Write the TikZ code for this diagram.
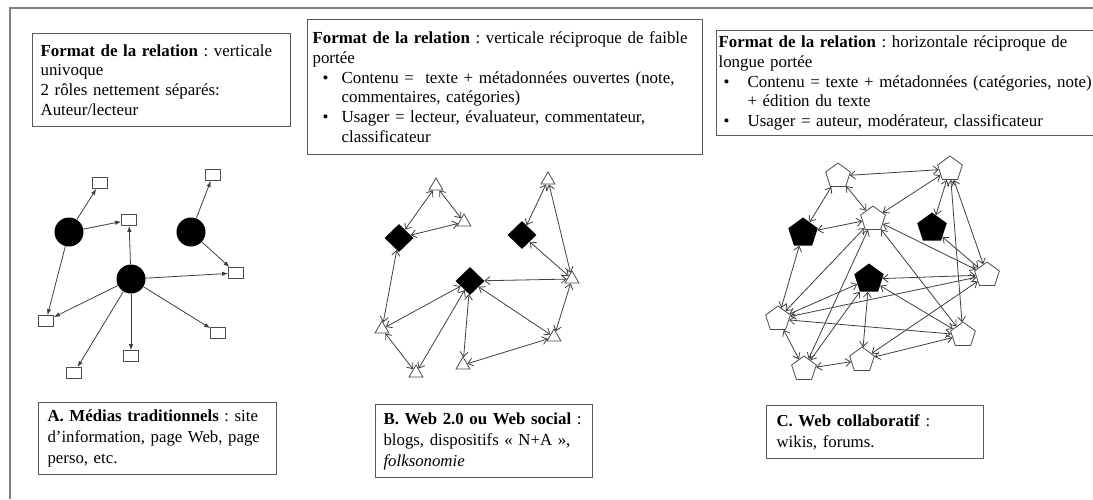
\documentclass[tikz,border=0pt]{standalone}
\usepackage{fontspec}
\setmainfont{Liberation Serif}
\usetikzlibrary{shapes.geometric,arrows.meta}
\frenchspacing
\newcommand{\puce}[1][8pt]{\hspace*{#1}\makebox[\dimexpr29pt-#1\relax][l]{\textbullet}}
\newcommand{\retrait}{\hspace*{29pt}}
\begin{document}
\begin{tikzpicture}[x=1pt,y=-1pt,
  frame/.style={draw=black!50, line width=1.5pt},
  infobox/.style={draw=black!65, line width=1.1pt, anchor=north west, align=left, inner ysep=0pt, font=\fontsize{16.9}{19.8}\selectfont},
  typebox/.style={infobox, font=\fontsize{16.8}{21}\selectfont},
  hub/.style={circle, fill, minimum size=29pt, inner sep=0pt},
  leaf/.style={draw=black!70, fill=white, line width=0.8pt, minimum width=15pt, minimum height=11pt, inner sep=0pt},
  losange/.style={diamond, fill, minimum width=29pt, minimum height=28pt, inner sep=0pt},
  tri/.style={regular polygon, regular polygon sides=3, draw=black!70, line width=0.8pt, minimum size=16pt, inner sep=0pt},
  penta/.style={regular polygon, regular polygon sides=5, fill, minimum size=31pt, inner sep=0pt},
  pentb/.style={regular polygon, regular polygon sides=5, draw=black!70, line width=0.8pt, minimum size=26pt, inner sep=0pt},
  oneway/.style={draw=black!75, line width=0.8pt, -{Latex[length=6pt,width=4.5pt]}},
  twoway/.style={draw=black!75, line width=0.8pt, {Straight Barb[length=5pt,width=8pt]}-{Straight Barb[length=5pt,width=8pt]}}]
\clip (0,0) rectangle (1093,499);
\fill[white] (0,0) rectangle (1093,499);
\draw[frame] (10,499) -- (10,8) -- (1093,8);
% encadres du haut
\node[infobox, minimum width=258pt, minimum height=93pt, text width=242pt, inner xsep=8pt] (rel1) at (32,33) {\textbf{Format de la relation} : verticale\\ univoque\\ 2 rôles nettement séparés:\\ Auteur/lecteur};
\node[infobox, minimum width=395pt, minimum height=135pt, text width=385pt, inner xsep=5pt] (rel2) at (307,19) {\textbf{Format de la relation} : verticale réciproque de faible\\ portée\\ \puce[10pt]Contenu = \ texte + métadonnées ouvertes (note,\\ \retrait commentaires, catégories)\\ \puce[10pt]Usager = lecteur, évaluateur, commentateur,\\ \retrait classificateur};
\node[infobox, minimum width=404pt, minimum height=105pt, text width=400pt, inner xsep=2pt] (rel3) at (716,30) {\textbf{Format de la relation} : horizontale réciproque de\\ longue portée\\ \puce[5pt]Contenu = texte + métadonnées (catégories, note)\\ \retrait + édition du texte\\ \puce[5pt]Usager = auteur, modérateur, classificateur};
% A. medias traditionnels
\node[hub] (ca1) at (69,232){};
\node[hub] (ca2) at (191,232){};
\node[hub] (ca3) at (131,279){};
\node[leaf] (sa1) at (100,183){};
\node[leaf] (sa2) at (129,220){};
\node[leaf] (sa3) at (213,175){};
\node[leaf] (sa4) at (236,273){};
\node[leaf] (sa5) at (46,321){};
\node[leaf] (sa6) at (218,333){};
\node[leaf] (sa7) at (131,356){};
\node[leaf] (sa8) at (74,373){};
\draw[oneway] (ca1) -- (sa1);
\draw[oneway] (ca1) -- (sa2);
\draw[oneway] (ca1) -- (sa5);
\draw[oneway] (ca2) -- (sa3);
\draw[oneway] (ca2) -- (sa4);
\draw[oneway] (ca3) -- (sa2);
\draw[oneway] (ca3) -- (sa4);
\draw[oneway] (ca3) -- (sa5);
\draw[oneway] (ca3) -- (sa6);
\draw[oneway] (ca3) -- (sa7);
\draw[oneway] (ca3) -- (sa8);
% B. web social
\node[losange] (db1) at (399,238){};
\node[losange] (db2) at (522,235){};
\node[losange] (db3) at (470,281){};
\node[tri] (tb1) at (436,186){};
\node[tri] (tb2) at (464,222){};
\node[tri] (tb3) at (548,180){};
\node[tri] (tb4) at (572,279){};
\node[tri] (tb5) at (382,329){};
\node[tri] (tb6) at (554,337){};
\node[tri] (tb7) at (416,373){};
\node[tri] (tb8) at (463,365){};
\draw[twoway] (db1) -- (tb1);
\draw[twoway] (tb1) -- (tb2);
\draw[twoway] (db1) -- (tb2);
\draw[twoway] (db1) -- (tb5);
\draw[twoway] (tb5) -- (db3);
\draw[twoway] (tb5) -- (tb7);
\draw[twoway] (tb7) -- (db3);
\draw[twoway] (db3) -- (tb8);
\draw[twoway] (tb8) -- (tb6);
\draw[twoway] (db3) -- (tb6);
\draw[twoway] (db3) -- (tb4);
\draw[twoway] (tb4) -- (tb6);
\draw[twoway] (tb3) -- (tb4);
\draw[twoway] (db2) -- (tb3);
\draw[twoway] (db2) -- (tb4);
% C. web collaboratif
\node[penta] (pc1) at (803,233){};
\node[penta] (pc2) at (932,228){};
\node[penta] (pc3) at (869,279){};
\node[pentb] (qc1) at (838,176){};
\node[pentb] (qc2) at (950,169){};
\node[pentb] (qc3) at (873,219){};
\node[pentb] (qc4) at (987,275){};
\node[pentb] (qc5) at (778,319){};
\node[pentb] (qc6) at (963,335){};
\node[pentb] (qc7) at (804,369){};
\node[pentb] (qc8) at (862,360){};
\draw[twoway] (qc1) -- (qc2);
\draw[twoway] (qc1) -- (pc1);
\draw[twoway] (qc1) -- (qc3);
\draw[twoway] (qc2) -- (qc3);
\draw[twoway] (qc2) -- (pc2);
\draw[twoway] (qc2) -- (qc6);
\draw[twoway] (qc2) -- (qc4);
\draw[twoway] (pc1) -- (qc3);
\draw[twoway] (pc1) -- (qc5);
\draw[twoway] (qc3) -- (qc4);
\draw[twoway] (qc3) -- (qc6);
\draw[twoway] (qc3) -- (qc5);
\draw[twoway] (qc3) -- (qc7);
\draw[twoway] (pc2) -- (qc4);
\draw[twoway] (pc3) -- (qc4);
\draw[twoway] (pc3) -- (qc5);
\draw[twoway] (pc3) -- (qc6);
\draw[twoway] (pc3) -- (qc8);
\draw[twoway] (pc3) -- (qc7);
\draw[twoway] (qc4) -- (qc5);
\draw[twoway] (qc4) -- (qc8);
\draw[twoway] (qc5) -- (qc6);
\draw[twoway] (qc5) -- (qc7);
\draw[twoway] (qc6) -- (qc8);
\draw[twoway] (qc7) -- (qc8);
% encadres du bas
\node[typebox, minimum width=238pt, minimum height=72pt, text width=220pt, inner xsep=9pt] (typa) at (38,402) {\textbf{A. Médias traditionnels} : site\\ d’information, page Web, page\\ perso, etc.};
\node[typebox, minimum width=217pt, minimum height=73pt, text width=201pt, inner xsep=8pt] (typb) at (375,404) {\textbf{B. Web 2.0 ou Web social} :\\ blogs, dispositifs « N+A »,\\ \textit{folksonomie}};
\node[typebox, minimum width=217pt, minimum height=53pt, text width=197pt, inner xsep=10pt] (typc) at (766,405) {\textbf{C. Web collaboratif} :\\ wikis, forums.};
\end{tikzpicture}
\end{document}
